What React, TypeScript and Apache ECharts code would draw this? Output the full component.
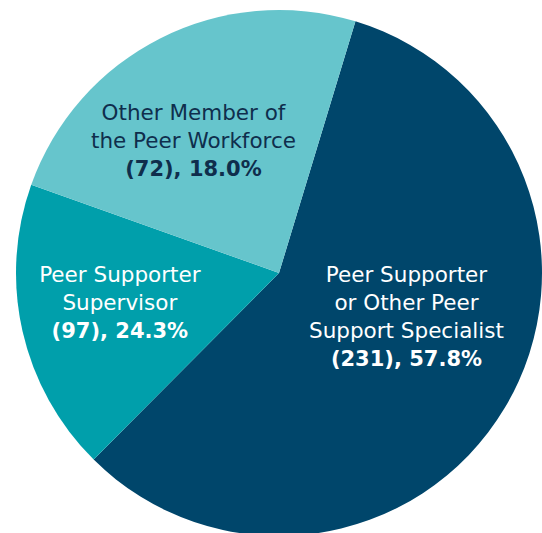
import React, { useEffect, useRef } from "react";
import * as echarts from "echarts";

// Slice sizes as drawn in the picture (navy, teal, light teal)
const sliceValues = [231, 72, 97];
const nameLines = [
  ["Peer Supporter", "or Other Peer", "Support Specialist"],
  ["Peer Supporter", "Supervisor"],
  ["Other Member of", "the Peer Workforce"],
];
const labelCounts = [231, 97, 72];
const labelPercents = ["57.8%", "24.3%", "18.0%"];
const colors = ["#00466B", "#009FAB", "#66C5CC"];
const textColors = ["#FFFFFF", "#FFFFFF", "#0F2E4C"];
const labelShift = [
  [12, -25],
  [-28, 0],
  [-25, -12],
];

export default function App() {
  const ref = useRef<HTMLDivElement>(null);
  useEffect(() => {
    if (!ref.current) return;
    const chart = echarts.init(ref.current, undefined, { renderer: "svg" });
    const data = sliceValues.map((v, i) => ({
      value: v,
      name: nameLines[i].join(" "),
      itemStyle: { color: colors[i] },
      label: {
        color: textColors[i],
        formatter:
          nameLines[i].map((l) => `{n|${l}}`).join("\n") +
          `\n{b|(${labelCounts[i]}), ${labelPercents[i]}}`,
        rich: {
          n: { fontFamily: "DejaVu Sans", fontSize: 21.5, fontWeight: 400, lineHeight: 28, color: textColors[i], align: "center" },
          b: { fontFamily: "DejaVu Sans", fontSize: 21, fontWeight: 700, lineHeight: 28, color: textColors[i], align: "center" },
        },
      },
    }));
    chart.setOption({
      animation: false,
      series: [
        {
          type: "pie",
          center: [279, 273],
          radius: [0, 263],
          startAngle: 73.1,
          clockwise: true,
          avoidLabelOverlap: false,
          itemStyle: { borderWidth: 0 },
          label: { show: true, position: "inside", align: "center" },
          labelLine: { show: false },
          labelLayout: (p: any) => ({ dx: labelShift[p.dataIndex][0], dy: labelShift[p.dataIndex][1] }),
          emphasis: { disabled: true },
          data,
        },
      ],
    });
    return () => chart.dispose();
  }, []);
  return (
    <div
      ref={ref}
      style={{ position: "absolute", left: 0, top: 0, width: 542, height: 533, background: "#fff" }}
    />
  );
}
